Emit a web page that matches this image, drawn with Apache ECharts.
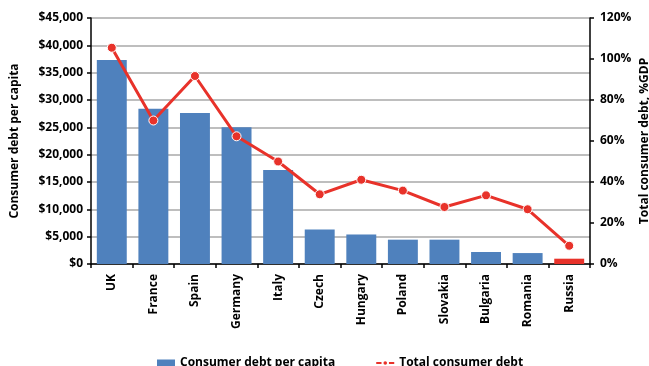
<!DOCTYPE html>
<html>
<head>
<meta charset="utf-8">
<script src="https://cdn.jsdelivr.net/npm/echarts@6/dist/echarts.min.js"></script>
<style>
  html, body { margin: 0; padding: 0; background: #fff; }
  #chart { width: 649px; height: 366px; }
</style>
</head>
<body>
<div id="chart"></div>
<script>
// Consumer debt per capita (USD) and total consumer debt (% of GDP)
const countries = ['UK', 'France', 'Spain', 'Germany', 'Italy', 'Czech', 'Hungary', 'Poland', 'Slovakia', 'Bulgaria', 'Romania', 'Russia'];
const debtPerCapita = [37300, 28400, 27600, 25000, 17200, 6300, 5400, 4450, 4450, 2200, 2000, 970];
const debtPctGdp = [105.5, 70, 91.7, 62.3, 50, 34, 41.1, 35.8, 27.8, 33.5, 26.7, 8.9];
const highlightCountry = 'Russia';

const BLUE = '#4f81bd';
const RED = '#e8322a';
const FONT = '"Open Sans", Lato, sans-serif';

const chart = echarts.init(document.getElementById('chart'));

const axisLabelStyle = { color: '#000', fontFamily: FONT, fontWeight: 'bold', fontSize: 12 };

chart.setOption({
  animation: false,
  textStyle: { fontFamily: FONT },
  grid: { left: 91, right: 59, top: 18, bottom: 102, containLabel: false, outerBoundsMode: 'none' },
  legend: {
    bottom: -8,
    left: 152,
    itemGap: 40,
    itemWidth: 18,
    itemHeight: 7,
    textStyle: { color: '#000', fontFamily: FONT, fontWeight: 'bold', fontSize: 12 },
    data: [
      { name: 'Consumer debt per capita', icon: 'rect' },
      { name: 'Total consumer debt' }
    ]
  },
  xAxis: {
    type: 'category',
    data: countries,
    axisLine: { lineStyle: { color: '#000', width: 1.5 } },
    axisTick: { show: true, length: 4, lineStyle: { color: '#000', width: 1.5 } },
    axisLabel: Object.assign({ rotate: 90, margin: 10, interval: 0 }, axisLabelStyle)
  },
  yAxis: [
    {
      type: 'value',
      min: 0, max: 45000, interval: 5000,
      name: 'Consumer debt per capita',
      nameLocation: 'middle',
      nameGap: 70,
      nameTextStyle: { color: '#000', fontFamily: FONT, fontWeight: 'bold', fontSize: 12 },
      axisLine: { show: true, lineStyle: { color: '#000', width: 1.5 } },
      axisTick: { show: true, length: 4, lineStyle: { color: '#000', width: 1.5 } },
      splitLine: { lineStyle: { color: '#a8a8a8', width: 1.5 } },
      axisLabel: Object.assign({
        margin: 8,
        formatter: v => '$' + v.toLocaleString('en-US')
      }, axisLabelStyle)
    },
    {
      type: 'value',
      min: 0, max: 120, interval: 20,
      position: 'right',
      name: 'Total consumer debt, %GDP',
      nameLocation: 'middle',
      nameGap: 49,
      nameMoveOverlap: false,
      nameRotate: 90,
      nameTextStyle: { color: '#000', fontFamily: FONT, fontWeight: 'bold', fontSize: 12 },
      axisLine: { show: true, lineStyle: { color: '#000', width: 1.5 } },
      axisTick: { show: true, length: 4, lineStyle: { color: '#000', width: 1.5 } },
      splitLine: { show: false },
      axisLabel: Object.assign({ margin: 10, formatter: v => v + '%' }, axisLabelStyle)
    }
  ],
  series: [
    {
      name: 'Consumer debt per capita',
      type: 'bar',
      yAxisIndex: 0,
      barWidth: '72%',
      itemStyle: { color: BLUE },
      data: debtPerCapita.map((v, i) => countries[i] === highlightCountry
        ? { value: v, itemStyle: { color: RED } }
        : v)
    },
    {
      name: 'Total consumer debt',
      type: 'line',
      yAxisIndex: 1,
      symbol: 'circle',
      symbolSize: 9,
      lineStyle: { color: RED, width: 3 },
      itemStyle: { color: RED, borderColor: '#fff', borderWidth: 1 },
      data: debtPctGdp
    }
  ]
});
</script>
</body>
</html>
